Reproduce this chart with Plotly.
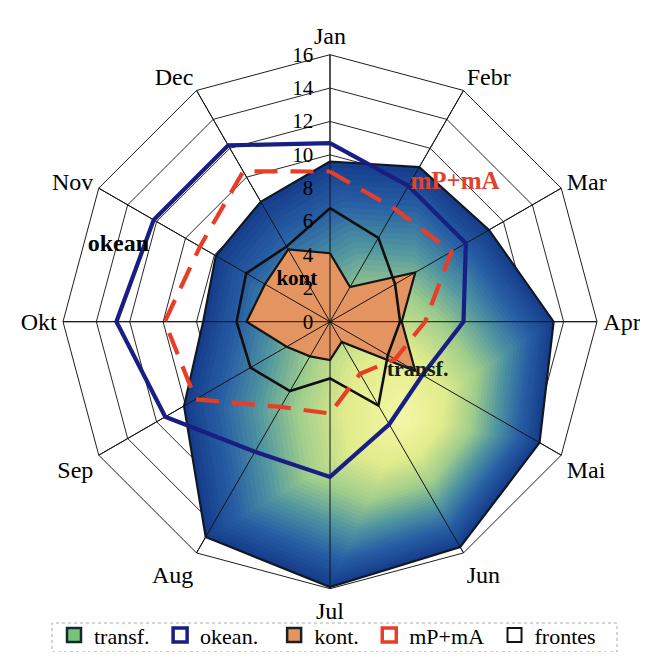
import numpy as np
import plotly.graph_objects as go

# ---------------- data ----------------
months = ["Jan", "Febr", "Mar", "Apr", "Mai", "Jun", "Jul", "Aug", "Sep", "Okt", "Nov", "Dec"]
transf = [9.6, 10.7, 11.0, 13.4, 14.5, 15.6, 15.9, 14.9, 10.1, 7.6, 7.9, 8.3]
okean = [10.7, 9.4, 9.4, 8.0, 6.4, 7.1, 9.3, 9.0, 11.4, 12.8, 12.2, 12.2]
kont = [4.1, 2.4, 5.9, 4.3, 5.9, 1.4, 2.3, 2.4, 3.0, 5.0, 4.5, 5.0]
mPmA = [9.0, 7.8, 8.4, 5.7, 4.5, 3.6, 5.5, 5.9, 9.3, 9.9, 9.0, 10.4]
frontes = [6.8, 5.8, 4.5, 4.2, 4.0, 5.8, 3.4, 4.8, 5.5, 5.6, 5.8, 5.2]
radial_ticks = [0, 2, 4, 6, 8, 10, 12, 14, 16]
r_max = 16

series_names = ["transf.", "okean.", "kont.", "mP+mA", "frontes"]
label_texts = ["okean", "kont", "mP+mA", "transf."]

FONT = "Liberation Serif"

theta = [i * 360.0 / len(months) for i in range(len(months))]


def closed(v):
    v = list(v)
    return v + [v[0]]


fig = go.Figure()

# ---- base polar (category axis -> polygon grid, month labels) ----
fig.add_trace(go.Scatterpolar(
    r=[0] * len(months), theta=months, mode="lines", line=dict(width=0),
    showlegend=False, hoverinfo="skip", subplot="polar"))

S2 = "polar2"

# ---- gradient fill for transf. : polygon shrunk towards a focus point ----
g_r, g_t = 7.4, 142.7          # gradient focus (style only)
gx = g_r * np.sin(np.radians(g_t))
gy = g_r * np.cos(np.radians(g_t))
tr = np.radians(theta)
px = np.array(transf) * np.sin(tr)
py = np.array(transf) * np.cos(tr)
stops = [(0.0, (244, 247, 168)), (0.28, (226, 236, 140)), (0.5, (160, 205, 140)),
         (0.68, (80, 150, 160)), (0.85, (40, 95, 165)), (1.0, (22, 62, 140))]


def grad_color(s):
    for (a, ca), (b, cb) in zip(stops[:-1], stops[1:]):
        if a <= s <= b:
            f = (s - a) / (b - a)
            c = [int(round(ca[i] + f * (cb[i] - ca[i]))) for i in range(3)]
            return "rgb(%d,%d,%d)" % tuple(c)
    return "rgb(%d,%d,%d)" % stops[-1][1]


N = 45
for k in range(N):
    s = 1.0 - k / N
    qx = gx + s * (px - gx)
    qy = gy + s * (py - gy)
    rr = np.hypot(qx, qy)
    tt = np.degrees(np.arctan2(qx, qy)) % 360
    fig.add_trace(go.Scatterpolar(
        r=closed(rr), theta=closed(tt), mode="lines", line=dict(width=0),
        fill="toself", fillcolor=grad_color(s), showlegend=False, hoverinfo="skip",
        subplot=S2))

# transf. outline
fig.add_trace(go.Scatterpolar(
    r=closed(transf), theta=closed(theta), mode="lines",
    line=dict(color="rgb(15,25,35)", width=2.2), showlegend=False, hoverinfo="skip",
    subplot=S2))

# kont. (filled orange)
fig.add_trace(go.Scatterpolar(
    r=closed(kont), theta=closed(theta), mode="lines",
    fill="toself", fillcolor="rgb(228,148,96)",
    line=dict(color="rgb(20,20,20)", width=2.2), showlegend=False, subplot=S2))

# spokes drawn above the fills
sp_r, sp_t = [], []
for t in theta:
    sp_r += [0, r_max, None]
    sp_t += [t, t, None]
fig.add_trace(go.Scatterpolar(
    r=sp_r, theta=sp_t, mode="lines", line=dict(color="rgb(20,20,20)", width=1),
    showlegend=False, hoverinfo="skip", subplot=S2))

# frontes
fig.add_trace(go.Scatterpolar(
    r=closed(frontes), theta=closed(theta), mode="lines",
    line=dict(color="rgb(15,15,15)", width=2.6), showlegend=False, subplot=S2))

# okean.
fig.add_trace(go.Scatterpolar(
    r=closed(okean), theta=closed(theta), mode="lines",
    line=dict(color="rgb(25,30,130)", width=4.2), showlegend=False, subplot=S2))

# mP+mA
fig.add_trace(go.Scatterpolar(
    r=closed(mPmA), theta=closed(theta), mode="lines",
    line=dict(color="rgb(232,62,40)", width=4.2, dash="23px,13px"), showlegend=False,
    subplot=S2))

# in-chart labels
lab_r = [13.5, 3.2, 11.2, 6.0]
lab_t = [290, 321.6, 42, 119]
lab_c = ["black", "black", "rgb(225,66,45)", "rgb(20,30,30)"]
lab_s = [24, 21, 25, 22]
for txt, r_, t_, c_, s_ in zip(label_texts, lab_r, lab_t, lab_c, lab_s):
    fig.add_trace(go.Scatterpolar(
        r=[r_], theta=[t_], mode="text", text=["<b>" + txt + "</b>"],
        textposition="middle center", textfont=dict(family=FONT, size=s_, color=c_),
        showlegend=False, hoverinfo="skip", subplot=S2))

# legend entries (square boxes like the original)
leg_fill = ["rgb(120,195,120)", "white", "rgb(228,148,96)", "white", "white"]
leg_line = ["rgb(20,40,50)", "rgb(25,30,130)", "rgb(30,30,30)", "rgb(232,62,40)", "rgb(20,20,20)"]
leg_lw = [2.5, 3.5, 2.5, 3.5, 2]
leg_pad = ["\u00a0", "\u00a0\u00a0", "\u00a0", "\u00a0", ""]
for nm, fc, lc, lw, pd in zip(series_names, leg_fill, leg_line, leg_lw, leg_pad):
    fig.add_trace(go.Scatterpolar(
        r=[None], theta=[None], mode="markers", name=nm + pd,
        marker=dict(symbol="square", size=14, color=fc, line=dict(color=lc, width=lw)),
        subplot=S2))

W, H = 632, 644
DOM = dict(x=[0.0870, 0.9320], y=[0.0983, 0.9275])

fig.update_layout(
    width=W, height=H,
    margin=dict(l=0, r=0, t=0, b=0, autoexpand=False),
    paper_bgcolor="white",
    font=dict(family=FONT, size=22, color="black"),
    polar=dict(
        domain=DOM,
        bgcolor="white",
        gridshape="linear",
        angularaxis=dict(
            type="category", categoryarray=months,
            direction="clockwise", rotation=90,
            showline=True, linecolor="rgb(30,30,30)", linewidth=1,
            showgrid=True, gridcolor="rgb(30,30,30)", gridwidth=1,
            ticks="outside", ticklen=1, tickcolor="rgba(0,0,0,0)",
            tickfont=dict(family=FONT, size=24, color="black"),
        ),
        radialaxis=dict(
            range=[0, r_max], tickmode="array", tickvals=radial_ticks,
            angle=90, showline=False, showticklabels=False, ticks="",
            showgrid=True, gridcolor="rgb(40,40,40)", gridwidth=1,
        ),
    ),
    polar2=dict(
        domain=DOM,
        bgcolor="rgba(0,0,0,0)",
        angularaxis=dict(
            direction="clockwise", rotation=90,
            showline=False, showgrid=False, showticklabels=False, ticks="",
        ),
        radialaxis=dict(
            range=[0, r_max], tickmode="array", tickvals=radial_ticks,
            angle=90, side="counterclockwise", tickangle=90,
            showline=False, showgrid=False,
            ticks="outside", ticklen=9, tickcolor="rgba(0,0,0,0)",
            tickfont=dict(family=FONT, size=21, color="black"),
            layer="above traces",
        ),
    ),
    showlegend=True,
    legend=dict(
        orientation="h", x=0.0728, xanchor="left", y=0.026, yanchor="middle",
        bgcolor="rgba(0,0,0,0)", font=dict(family=FONT, size=22, color="black"),
        itemwidth=30,
    ),
    shapes=[dict(type="rect", xref="paper", yref="paper",
                 x0=0.0696, x1=0.9636, y0=0.0, y1=0.045,
                 line=dict(color="rgb(170,170,170)", width=1, dash="dot"))],
)

fig.write_html("out.html")
